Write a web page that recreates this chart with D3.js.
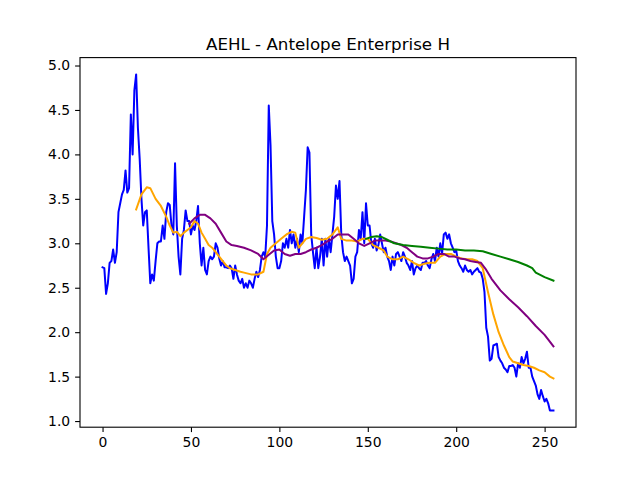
<!DOCTYPE html>
<html>
<head>
<meta charset="utf-8">
<script src="https://cdn.jsdelivr.net/npm/d3@7"></script>
<style>
  body { margin: 0; background: #fff; }
  text { font-family: "DejaVu Sans", sans-serif; }
</style>
</head>
<body>
<div id="chart"></div>
<script>
// price series, one value per day (index 0..255)
const price = [
  2.73, 2.72, 2.43, 2.55, 2.78, 2.8, 2.93, 2.78, 2.9, 3.35,
  3.45, 3.55, 3.6, 3.82, 3.57, 3.62, 4.45, 4.0, 4.72, 4.9,
  4.3, 3.95, 3.5, 3.2, 3.35, 3.37, 2.95, 2.55, 2.65, 2.58,
  2.8, 3.0, 3.02, 3.02, 3.2, 3.05, 3.35, 3.45, 3.43, 3.2,
  3.1, 3.9, 3.2, 2.85, 2.65, 3.05, 3.15, 3.37, 3.25, 3.25,
  3.1, 3.2, 3.15, 3.25, 3.42, 3.0, 2.75, 2.95, 2.7, 2.65,
  2.8, 2.85, 2.82, 2.85, 3.0, 2.95, 2.83, 2.75, 2.8, 2.73,
  2.73, 2.72, 2.75, 2.72, 2.6, 2.75, 2.65, 2.58, 2.55, 2.6,
  2.5, 2.55, 2.5, 2.58, 2.55, 2.5, 2.6, 2.68, 2.62, 2.7,
  2.85, 2.9, 2.85, 3.2, 4.55, 4.1, 3.25, 3.1, 2.85, 2.72,
  2.72, 2.8, 3.0, 2.95, 3.05, 2.95, 3.15, 3.0, 3.1, 2.95,
  3.05, 2.9, 3.1, 3.0, 3.3, 3.6, 4.08, 4.02, 3.1, 2.9,
  2.72, 2.95, 2.72, 2.85, 3.05, 2.75, 3.05, 2.85, 3.05, 2.9,
  3.1, 3.3, 3.65, 3.5, 3.7, 3.1, 2.9, 2.8, 2.85, 2.8,
  2.75, 2.55, 2.6, 2.85, 2.9, 3.15, 3.05, 3.35, 3.0, 3.45,
  3.2, 3.2, 3.0, 2.95, 3.05, 2.92, 2.98, 3.1, 3.0, 2.9,
  2.95, 2.85, 2.8, 2.7, 2.85, 2.75, 2.88, 2.9, 2.85, 2.8,
  2.9, 2.85, 2.78, 2.75, 2.7, 2.8, 2.65, 2.72, 2.75, 2.72,
  2.7, 2.78, 2.78, 2.8, 2.75, 2.72, 2.82, 2.88, 2.8, 2.95,
  2.85, 3.0, 2.88, 3.1, 3.12, 3.05, 3.1, 3.0, 2.95, 2.9,
  2.92, 2.8, 2.75, 2.72, 2.68, 2.75, 2.7, 2.68, 2.7, 2.65,
  2.68, 2.7, 2.72, 2.68, 2.67, 2.6, 2.45, 2.05, 1.95, 1.68,
  1.7, 1.85, 1.86, 1.87, 1.72, 1.68, 1.65, 1.6, 1.58, 1.55,
  1.62, 1.62, 1.63, 1.6, 1.5, 1.65, 1.6, 1.72, 1.65, 1.7,
  1.78, 1.6, 1.6, 1.5, 1.45, 1.4, 1.3, 1.25, 1.35, 1.28,
  1.22, 1.25, 1.2, 1.12, 1.12, 1.12
]

// moving averages as [index, value]
const ma20 = [
  [19, 3.38], [22, 3.55], [25, 3.63], [27, 3.62], [30, 3.5], [33, 3.42], [36, 3.3], [38, 3.2],
  [40, 3.12], [42, 3.13], [44, 3.08], [46, 3.12], [48, 3.15], [50, 3.18], [52, 3.25], [54, 3.22],
  [56, 3.12], [58, 3.05], [60, 2.98], [62, 2.95], [64, 2.9], [66, 2.85], [68, 2.8], [70, 2.75],
  [72, 2.72], [75, 2.7], [78, 2.68], [80, 2.67], [84, 2.65], [88, 2.65], [91, 2.68], [93, 2.88],
  [95, 2.95], [98, 3.0], [101, 3.05], [104, 3.1], [107, 3.13], [109, 3.12], [111, 2.95], [113, 3.0],
  [115, 3.05], [118, 3.07], [121, 3.06], [124, 3.04], [127, 3.05], [130, 3.1], [133, 3.18], [135, 3.05],
  [138, 3.03], [141, 3.03], [144, 3.02], [147, 3.05], [150, 3.05], [153, 2.98], [156, 2.95], [159, 2.92],
  [161, 2.85], [164, 2.82], [167, 2.82], [170, 2.85], [173, 2.82], [176, 2.78], [179, 2.75], [182, 2.77],
  [185, 2.78], [188, 2.78], [191, 2.85], [194, 2.88], [197, 2.88], [200, 2.85], [203, 2.83], [206, 2.82],
  [209, 2.82], [212, 2.8], [215, 2.72], [218, 2.45], [221, 2.2], [224, 2.0], [227, 1.85], [230, 1.72],
  [232, 1.67], [235, 1.65], [238, 1.63], [241, 1.62], [244, 1.6], [247, 1.57], [250, 1.55], [253, 1.5], [255, 1.48]
]
const ma50 = [
  [49, 3.22], [52, 3.28], [55, 3.32], [58, 3.32], [61, 3.28], [64, 3.22], [67, 3.12], [70, 3.02],
  [73, 2.98], [76, 2.97], [80, 2.95], [84, 2.92], [88, 2.88], [91, 2.82], [94, 2.87], [97, 2.92],
  [100, 2.93], [103, 2.88], [106, 2.86], [109, 2.88], [112, 2.88], [115, 2.9], [118, 2.93], [121, 2.95],
  [124, 2.98], [127, 3.02], [130, 3.05], [133, 3.1], [136, 3.1], [139, 3.1], [142, 3.05], [145, 3.0],
  [148, 2.97], [151, 3.0], [154, 3.03], [157, 3.03], [160, 3.03], [163, 3.02], [166, 3.0], [169, 2.98],
  [172, 2.95], [175, 2.9], [178, 2.85], [181, 2.83], [184, 2.83], [187, 2.85], [190, 2.88], [193, 2.88],
  [196, 2.85], [199, 2.85], [202, 2.83], [205, 2.82], [208, 2.8], [211, 2.79], [214, 2.78], [217, 2.7],
  [220, 2.6], [225, 2.47], [230, 2.37], [235, 2.28], [240, 2.18], [245, 2.07], [250, 1.97], [255, 1.84]
]
const ma150 = [
  [149, 3.05], [152, 3.07], [155, 3.08], [158, 3.07], [161, 3.04], [165, 3.0], [170, 2.98], [175, 2.97],
  [180, 2.96], [185, 2.95], [190, 2.94], [195, 2.93], [200, 2.93], [205, 2.92], [210, 2.92], [215, 2.91],
  [220, 2.88], [225, 2.85], [230, 2.82], [235, 2.79], [240, 2.75], [243, 2.72], [245, 2.67], [250, 2.62], [255, 2.58]
]
const xTicks = [0, 50, 100, 150, 200, 250]
const yTicks = [1.0, 1.5, 2.0, 2.5, 3.0, 3.5, 4.0, 4.5, 5.0]

const W = 640, H = 480
const margin = { top: 57.6, right: 64, bottom: 52.8, left: 80 }

const svg = d3.select('#chart').append('svg').attr('width', W).attr('height', H)

const x = d3.scaleLinear().domain([-12.75, 267.75]).range([margin.left, W - margin.right])
const y = d3.scaleLinear().domain([0.931, 5.089]).range([H - margin.bottom, margin.top])

const line = d3.line().x((d) => x(d[0])).y((d) => y(d[1]))

const series = [
  { data: price.map((v, i) => [i, v]), color: 'blue' },
  { data: ma20, color: 'orange' },
  { data: ma50, color: 'purple' },
  { data: ma150, color: 'green' },
]

svg.append('defs').append('clipPath').attr('id', 'clip')
  .append('rect')
  .attr('x', margin.left).attr('y', margin.top)
  .attr('width', W - margin.left - margin.right).attr('height', H - margin.top - margin.bottom)

svg.append('g').attr('clip-path', 'url(#clip)')
  .selectAll('path')
  .data(series)
  .join('path')
  .attr('d', (d) => line(d.data))
  .attr('fill', 'none')
  .attr('stroke', (d) => d.color)
  .attr('stroke-width', 2)
  .attr('stroke-linejoin', 'round')
  .attr('stroke-linecap', 'square')

// axes
const xAxis = svg.append('g')
  .attr('transform', `translate(0,${H - margin.bottom})`)
  .call(d3.axisBottom(x).tickValues(xTicks).tickSize(4.9).tickPadding(4.9).tickFormat(d3.format('d')))
const yAxis = svg.append('g')
  .attr('transform', `translate(${margin.left},0)`)
  .call(d3.axisLeft(y).tickValues(yTicks).tickSize(4.9).tickPadding(4.9).tickFormat(d3.format('.1f')))

for (const a of [xAxis, yAxis]) {
  a.select('.domain').remove()
  a.selectAll('text').style('font-family', '"DejaVu Sans", sans-serif').style('font-size', '13.9px').attr('fill', '#000')
  a.selectAll('line').attr('stroke', '#000').attr('stroke-width', 1.1)
}

svg.append('rect')
  .attr('x', margin.left).attr('y', margin.top)
  .attr('width', W - margin.left - margin.right).attr('height', H - margin.top - margin.bottom)
  .attr('fill', 'none').attr('stroke', '#000').attr('stroke-width', 1.1)

svg.append('text')
  .attr('x', (margin.left + W - margin.right) / 2)
  .attr('y', margin.top - 8)
  .attr('text-anchor', 'middle')
  .style('font-size', '16.7px')
  .text('AEHL - Antelope Enterprise H')
</script>
</body>
</html>
